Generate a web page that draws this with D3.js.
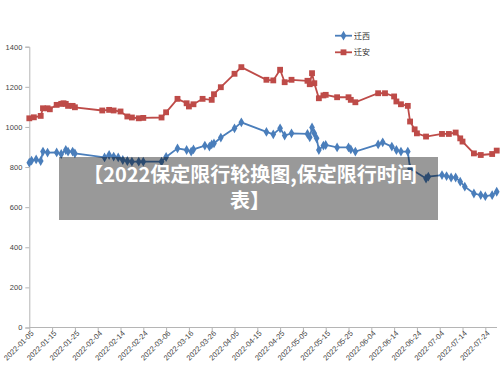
<!DOCTYPE html>
<html>
<head>
<meta charset="utf-8">
<script src="https://cdn.jsdelivr.net/npm/d3@7"></script>
<style>
  html, body { margin: 0; padding: 0; background: #fff; }
  svg { display: block; }
  .axis text { font-family: "Liberation Sans", Arial, sans-serif; font-size: 7.5px; fill: #444; }
  .legend text { font-family: "Noto Sans CJK SC", sans-serif; font-size: 8px; fill: #333; }
  .title text { font-family: "Noto Sans CJK SC", sans-serif; font-size: 20px; font-weight: bold; fill: #fff; }
</style>
</head>
<body>
<svg id="chart" width="500" height="377"></svg>
<script>
// 迁西
const xiDates = ["01-05","01-06","01-08","01-10","01-11","01-13","01-17","01-19","01-21","01-22","01-24","01-25",
  "02-07","02-09","02-11","02-13","02-15","02-17","02-19","02-22","02-24",
  "03-04","03-06","03-11","03-15","03-17","03-18","03-23","03-25","03-26","03-27","03-30",
  "04-05","04-08","04-19","04-22","04-25","04-27","04-30",
  "05-07","05-08","05-09","05-10","05-11","05-12","05-14","05-15","05-20","05-25","05-26","05-28",
  "06-07","06-09","06-13","06-15","06-17","06-20","06-21",
  "06-28","06-29","07-05","07-07","07-09","07-11","07-13","07-15","07-19","07-22","07-24","07-27","07-29"];
const xiValues = [822,832,838,830,877,872,873,865,885,877,877,868,
  848,860,852,848,835,830,827,827,827,
  827,850,893,885,877,888,907,902,913,918,947,
  993,1023,975,963,993,957,968,
  965,948,997,968,943,885,907,910,898,898,888,877,
  913,923,902,885,877,877,793,
  743,752,760,755,748,748,727,702,668,660,655,660,677];

// 迁安
const anDates = ["01-05","01-07","01-10","01-11","01-13","01-14","01-17","01-19","01-20","01-21","01-22","01-24","01-25",
  "02-06","02-09","02-11","02-14","02-17","02-19","02-22","02-24",
  "03-04","03-06","03-11","03-15","03-16","03-18","03-22","03-26","03-27","03-30",
  "04-05","04-08","04-19","04-22","04-25","04-27","04-30",
  "05-07","05-08","05-09","05-10","05-12","05-14","05-15","05-20","05-25","05-26","05-28",
  "06-07","06-10","06-14","06-15","06-17","06-20","06-21","06-23","06-24","06-28",
  "07-05","07-08","07-11","07-13","07-14","07-19","07-22","07-27","07-29"];
const anValues = [1043,1048,1055,1093,1093,1088,1110,1115,1118,1115,1105,1105,1098,
  1082,1085,1082,1077,1052,1047,1043,1045,
  1047,1073,1140,1118,1102,1113,1140,1135,1163,1198,
  1265,1298,1235,1232,1285,1223,1235,
  1230,1213,1268,1218,1143,1157,1160,1148,1148,1135,1123,
  1168,1168,1152,1127,1113,1105,1027,988,968,952,
  965,965,972,943,927,868,860,865,882];

const xTickLabels = ["2022-01-05","2022-01-15","2022-01-25","2022-02-04","2022-02-14","2022-02-24",
  "2022-03-06","2022-03-16","2022-03-26","2022-04-05","2022-04-15","2022-04-25","2022-05-05",
  "2022-05-15","2022-05-25","2022-06-04","2022-06-14","2022-06-24","2022-07-04","2022-07-14","2022-07-24"];
const yTicks = [0, 200, 400, 600, 800, 1000, 1200, 1400];
const seriesNames = ["迁西", "迁安"];
const titleLines = ["【2022保定限行轮换图,保定限行时间", "表】"];

const parse = d3.timeParse("%Y-%m-%d");
const blueColor = "#4a7ebb";
const redColor = "#be4b48";

const svg = d3.select("#chart");

const x = d3.scaleTime()
  .domain([parse("2022-01-05"), parse("2022-07-30")])
  .range([29.3, 499]);
const y = d3.scaleLinear().domain([0, 1400]).range([327.5, 46.7]);

// y axis
const yAxis = svg.append("g").attr("class", "axis")
  .attr("transform", "translate(29.3,0)")
  .call(d3.axisLeft(y).tickValues(yTicks).tickFormat(d3.format("d")).tickSize(4).tickPadding(3));
yAxis.select(".domain").attr("stroke", "#b5b5b5");
yAxis.selectAll(".tick line").attr("stroke", "#b5b5b5");

// x axis
const xAxis = svg.append("g").attr("class", "axis")
  .attr("transform", `translate(0,${y(0)})`)
  .call(d3.axisBottom(x).tickValues(xTickLabels.map(parse)).tickSize(4).tickFormat(d3.timeFormat("%Y-%m-%d")));
xAxis.select(".domain").attr("stroke", "#b5b5b5").attr("d", `M29.3,0H497`);
xAxis.selectAll(".tick line").attr("stroke", "#b5b5b5");
xAxis.selectAll(".tick text")
  .attr("text-anchor", "end")
  .attr("transform", "translate(4,3) rotate(-45)")
  .attr("dy", "0.35em").attr("y", 0).attr("x", -2);

const line = d3.line().x(d => x(d.date)).y(d => y(d.value));

function drawSeries(dates, values, color, marker) {
  const data = dates.map((d, i) => ({ date: parse("2022-" + d), value: values[i] }));
  svg.append("path").datum(data)
    .attr("fill", "none").attr("stroke", color).attr("stroke-width", 1.8)
    .attr("d", line);
  const sym = d3.symbol().type(marker).size(marker === d3.symbolSquare ? 34 : 28);
  svg.append("g").selectAll("path").data(data).join("path")
    .attr("transform", d => `translate(${x(d.date)},${y(d.value)})`)
    .attr("d", sym).attr("fill", color);
}
drawSeries(xiDates, xiValues, blueColor, d3.symbolDiamond);
drawSeries(anDates, anValues, redColor, d3.symbolSquare);

// legend
const legend = svg.append("g").attr("class", "legend");
[[blueColor, d3.symbolDiamond, 35.7], [redColor, d3.symbolSquare, 52.3]].forEach(([c, m, ly], i) => {
  legend.append("line").attr("x1", 335).attr("x2", 352).attr("y1", ly).attr("y2", ly)
    .attr("stroke", c).attr("stroke-width", 1.8);
  legend.append("path").attr("transform", `translate(343.5,${ly})`)
    .attr("d", d3.symbol().type(m).size(m === d3.symbolSquare ? 34 : 28)).attr("fill", c);
  legend.append("text").attr("x", 354).attr("y", ly).attr("dy", "0.35em").text(seriesNames[i]);
});

// overlay title box
const title = svg.append("g").attr("class", "title");
title.append("rect").attr("x", 59).attr("y", 157).attr("width", 379).attr("height", 63)
  .attr("fill", "rgba(0,0,0,0.4)");
title.selectAll("text").data(titleLines).join("text")
  .attr("x", 250).attr("y", (d, i) => 181.5 + i * 26.5)
  .attr("text-anchor", "middle").text(d => d);
</script>
</body>
</html>
